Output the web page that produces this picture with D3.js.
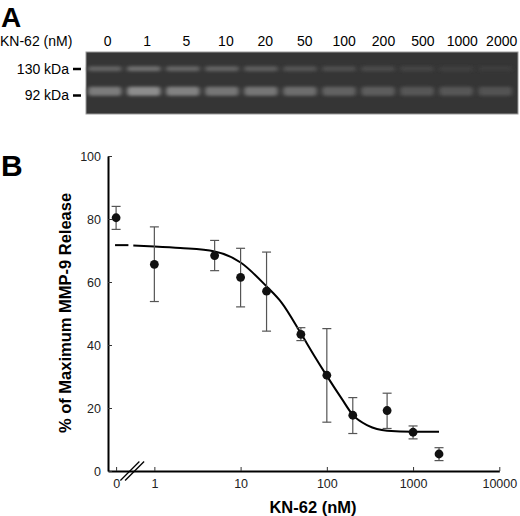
<!DOCTYPE html>
<html lang="en">
<head>
<meta charset="utf-8">
<title>KN-62 MMP-9 release</title>
<script src="https://d3js.org/d3.v7.min.js"></script>
<style>
  body { margin: 0; background: #fff; }
  svg { display: block; font-family: "Liberation Sans", Arial, sans-serif; }
  .axis path.domain { stroke: #000; stroke-width: 2; }
  .axis .tick line { stroke: #333; stroke-width: 1; }
  .axis .tick text { fill: #222; font-size: 12.5px; }
</style>
</head>
<body>
<div id="chart"></div>
<script>
// ---- panel A: gel lanes
var laneLabels = ["0", "1", "5", "10", "20", "50", "100", "200", "500", "1000", "2000"];
var markerLabels = ["130 kDa", "92 kDa"];
// band brightness read from the gel (0 = background, 1 = white)
var band130 = [0.42, 0.52, 0.44, 0.42, 0.38, 0.28, 0.24, 0.2, 0.14, 0.1, 0.08];
var band92 = [0.62, 0.78, 0.68, 0.58, 0.58, 0.5, 0.4, 0.36, 0.3, 0.3, 0.26];

// ---- panel B: dose response
var conc = [0, 1, 5, 10, 20, 50, 100, 200, 500, 1000, 2000];
var release = [80.4, 65.6, 68.4, 61.5, 57.1, 43.4, 30.4, 17.7, 19.2, 12.3, 5.4];
var errHigh = [84.0, 77.5, 73.2, 70.7, 69.5, 45.5, 45.2, 23.3, 24.7, 14.3, 7.4];
var errLow = [76.7, 53.8, 63.6, 52.1, 44.4, 41.4, 15.5, 11.9, 13.5, 10.2, 3.3];

// fitted curve
var fitConc = [0.57, 1, 2, 5, 10, 20, 30, 50, 70, 100, 150, 200, 300, 500, 1000, 2000];
var fitValue = [71.6, 71.3, 70.8, 69.7, 66.2, 58.6, 53.4, 43.7, 37.0, 30.2, 22.8, 17.8, 14.4, 12.8, 12.5, 12.5];
// short piece of the curve on the left of the axis break
var stubConc = [0.35, 0.5];
var stubValue = [71.7, 71.7];

var xTicks = [1, 10, 100, 1000, 10000];
var yTicks = [0, 20, 40, 60, 80, 100];

var zeroAt = 0.36;   // where "0" sits on the log axis
var axisStart = 0.29;

var W = 520, H = 516;
var svg = d3.select("#chart").append("svg")
    .attr("width", W)
    .attr("height", H);

// blur for gel bands
var defs = svg.append("defs");
defs.append("filter").attr("id", "blur")
    .attr("x", "-30%").attr("y", "-150%").attr("width", "160%").attr("height", "400%")
  .append("feGaussianBlur").attr("stdDeviation", "2.2 1.8");

// ---------------- Panel A
svg.append("text")
    .attr("x", 1).attr("y", 27)
    .style("font-size", "28px").style("font-weight", "bold")
    .text("A");

svg.append("text")
    .attr("x", 0).attr("y", 46)
    .style("font-size", "14px")
    .text("KN-62 (nM)");

var laneX = d3.scalePoint().domain(laneLabels).range([107.7, 501.7]);
svg.append("g").selectAll("text")
    .data(laneLabels)
  .enter().append("text")
    .attr("x", function(d) { return laneX(d); })
    .attr("y", 46)
    .attr("text-anchor", "middle")
    .style("font-size", "14px")
    .text(function(d) { return d; });

var gelX = d3.scaleBand().domain(laneLabels).range([88, 512]).paddingInner(0.14);
var gelY = d3.scalePoint().domain(markerLabels).range([68.7, 91.3]);
var markY = d3.scalePoint().domain(markerLabels).range([69, 95.5]);
var bandColor = d3.interpolateRgb("#343434", "#a6a6a6");

svg.append("rect")
    .attr("x", 86).attr("y", 52)
    .attr("width", 432).attr("height", 62)
    .attr("fill", "#353535")
    .attr("stroke", "#9a9a9a").attr("stroke-width", 1);

var gel = svg.append("g").attr("filter", "url(#blur)");
gel.selectAll("rect.b130")
    .data(laneLabels)
  .enter().append("rect")
    .attr("class", "b130")
    .attr("x", function(d) { return gelX(d); })
    .attr("y", gelY("130 kDa") - 2.5)
    .attr("width", gelX.bandwidth())
    .attr("height", 5)
    .attr("rx", 2)
    .attr("fill", function(d, i) { return bandColor(band130[i]); });
gel.selectAll("rect.b92")
    .data(laneLabels)
  .enter().append("rect")
    .attr("class", "b92")
    .attr("x", function(d) { return gelX(d); })
    .attr("y", gelY("92 kDa") - 4.5)
    .attr("width", gelX.bandwidth())
    .attr("height", 9)
    .attr("rx", 3)
    .attr("fill", function(d, i) { return bandColor(band92[i]); });

var marks = svg.append("g").selectAll("g")
    .data(markerLabels)
  .enter().append("g")
    .attr("transform", function(d) { return "translate(0," + markY(d) + ")"; });
marks.append("text")
    .attr("x", 69).attr("dy", "0.35em")
    .attr("text-anchor", "end")
    .style("font-size", "14px")
    .text(function(d) { return d; });
marks.append("line")
    .attr("x1", 73).attr("x2", 81)
    .attr("stroke", "#000").attr("stroke-width", 2.5);

// ---------------- Panel B
svg.append("text")
    .attr("x", 1).attr("y", 176)
    .style("font-size", "30px").style("font-weight", "bold")
    .text("B");

var x = d3.scaleLog().domain([axisStart, 10000]).range([108, 499.3]);
var y = d3.scaleLinear().domain([0, 100]).range([471, 156]);
var px = function(c) { return x(c === 0 ? zeroAt : c); };

svg.append("g")
    .attr("class", "axis")
    .attr("transform", "translate(0,471)")
    .call(d3.axisBottom(x)
      .tickValues([zeroAt].concat(xTicks))
      .tickFormat(function(d) { return d === zeroAt ? "0" : d3.format("d")(d); })
      .tickSizeInner(-4).tickSizeOuter(0).tickPadding(8));

svg.append("g")
    .attr("class", "axis")
    .attr("transform", "translate(108,0)")
    .call(d3.axisLeft(y)
      .tickValues(yTicks)
      .tickSizeInner(-4).tickSizeOuter(0).tickPadding(7));

// axis break marks
var breaks = [0.52, 0.59];
svg.append("g").selectAll("line")
    .data(breaks)
  .enter().append("line")
    .attr("x1", function(d) { return x(d) - 9.5; })
    .attr("x2", function(d) { return x(d) + 9.5; })
    .attr("y1", y(0) + 9.5)
    .attr("y2", y(0) - 9.5)
    .attr("stroke", "#000").attr("stroke-width", 1.3);

svg.append("text")
    .attr("x", 313).attr("y", 513)
    .attr("text-anchor", "middle")
    .style("font-size", "16.5px").style("font-weight", "bold")
    .text("KN-62 (nM)");

svg.append("text")
    .attr("transform", "translate(71,313) rotate(-90)")
    .attr("text-anchor", "middle")
    .style("font-size", "16.5px").style("font-weight", "bold")
    .text("% of Maximum MMP-9 Release");

// fitted curve
var line = d3.line()
    .x(function(d) { return x(d[0]); })
    .y(function(d) { return y(d[1]); })
    .curve(d3.curveMonotoneX);

svg.append("path")
    .datum(d3.zip(stubConc, stubValue))
    .attr("d", line)
    .attr("fill", "none").attr("stroke", "#000").attr("stroke-width", 2);
svg.append("path")
    .datum(d3.zip(fitConc, fitValue))
    .attr("d", line)
    .attr("fill", "none").attr("stroke", "#000").attr("stroke-width", 2);

// error bars
var eb = svg.append("g").attr("stroke", "#555").attr("stroke-width", 1.2);
conc.forEach(function(c, i) {
  var cx = px(c);
  eb.append("line").attr("x1", cx).attr("x2", cx)
    .attr("y1", y(errHigh[i])).attr("y2", y(errLow[i]));
  eb.append("line").attr("x1", cx - 4.5).attr("x2", cx + 4.5)
    .attr("y1", y(errHigh[i])).attr("y2", y(errHigh[i]));
  eb.append("line").attr("x1", cx - 4.5).attr("x2", cx + 4.5)
    .attr("y1", y(errLow[i])).attr("y2", y(errLow[i]));
});

// points
svg.append("g").selectAll("circle")
    .data(conc)
  .enter().append("circle")
    .attr("cx", function(d) { return px(d); })
    .attr("cy", function(d, i) { return y(release[i]); })
    .attr("r", 4.4)
    .attr("fill", "#111");
</script>
</body>
</html>
